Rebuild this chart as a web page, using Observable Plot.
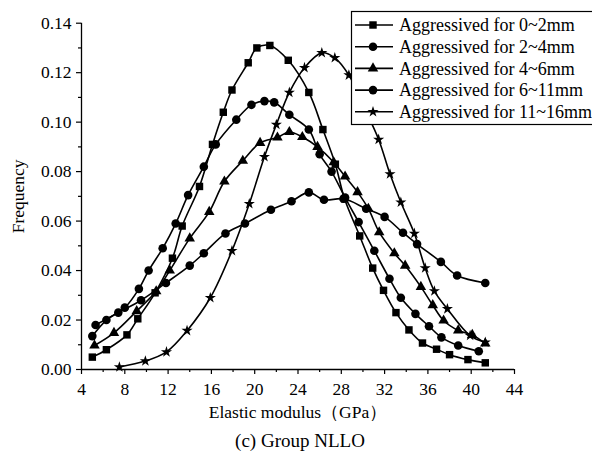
<!DOCTYPE html>
<html><head><meta charset="utf-8">
<script src="https://cdn.jsdelivr.net/npm/d3@7"></script>
<script src="https://cdn.jsdelivr.net/npm/@observablehq/plot@0.6"></script>
<style>
html,body{margin:0;padding:0;background:#fff;overflow:hidden;}
#wrap{position:relative;width:592px;height:460px;overflow:hidden;font-family:"Liberation Serif","Times New Roman",serif;color:#000;}
#caption{position:absolute;left:0;width:600px;top:429px;line-height:24px;text-align:center;font-size:19px;}
#legend{position:absolute;left:351px;top:11px;overflow:visible;}
svg text{font-family:"Liberation Serif","Times New Roman",serif !important;font-variant-numeric:normal;}
</style></head><body>
<div id="wrap"><div id="chart"></div><svg id="legend" width="260" height="116"></svg><div id="caption">(c) Group NLLO</div></div>
<script>
// ---- data ----
const seriesLabels = ["Aggressived for 0~2mm","Aggressived for 2~4mm","Aggressived for 4~6mm","Aggressived for 6~11mm","Aggressived for 11~16mm"];
const seriesSymbols = ["square","circle","triangle","circle","star"];

const x_0_2 = [5.0,6.3,8.2,9.2,10.8,12.4,13.3,14.9,16.1,17.1,17.9,19.4,20.2,21.4,23.1,25.0,26.3,27.45,28.3,29.7,30.9,31.9,33.05,34.25,35.5,36.8,38.0,39.7,41.3];
const f_0_2 = [0.005,0.008,0.014,0.0205,0.031,0.045,0.058,0.074,0.091,0.104,0.113,0.124,0.130,0.131,0.125,0.112,0.097,0.083,0.069,0.054,0.041,0.032,0.023,0.016,0.0107,0.0082,0.006,0.004,0.0027];

const x_2_4 = [5.0,6.3,8.0,9.3,10.2,11.5,12.7,13.85,15.3,16.4,18.3,19.7,20.9,21.8,23.2,25.0,26.0,27.1,28.35,29.6,31.05,32.45,33.5,34.85,36.1,37.25,38.8,40.7];
const f_2_4 = [0.0135,0.020,0.025,0.0326,0.040,0.049,0.059,0.0705,0.082,0.091,0.101,0.107,0.1085,0.108,0.103,0.097,0.087,0.080,0.0695,0.0596,0.048,0.0367,0.029,0.0225,0.0175,0.013,0.0097,0.0074];

const x_4_6 = [5.2,7.0,9.1,10.9,12.15,14.0,15.8,17.2,18.9,20.5,22.1,23.2,24.4,25.8,27.3,28.35,29.5,30.5,31.5,32.9,33.9,35.35,36.45,37.45,38.8,40.1,41.3];
const f_4_6 = [0.0097,0.0148,0.0236,0.0316,0.040,0.053,0.0637,0.076,0.0844,0.0916,0.0938,0.096,0.094,0.090,0.0838,0.078,0.0717,0.065,0.0555,0.047,0.042,0.0334,0.026,0.0198,0.0158,0.014,0.0105];

const x_6_11 = [5.3,7.4,9.5,11.8,14.0,15.3,17.3,19.1,21.5,23.4,25.0,26.4,28.2,30.3,32.0,33.7,35.0,37.2,38.7,41.3];
const f_6_11 = [0.018,0.023,0.028,0.035,0.042,0.047,0.055,0.059,0.0646,0.068,0.0716,0.0686,0.069,0.065,0.0617,0.0553,0.0507,0.0435,0.038,0.035];

const x_11_16 = [7.5,9.9,11.85,13.75,15.9,17.9,19.5,20.9,22.0,23.2,24.6,26.2,27.4,28.7,30.1,31.45,32.5,33.5,34.75,35.75,36.6,37.8,39.9,41.3];
const f_11_16 = [0.001,0.0034,0.0071,0.0157,0.029,0.048,0.067,0.086,0.099,0.112,0.122,0.128,0.126,0.119,0.106,0.093,0.079,0.0676,0.055,0.041,0.0317,0.0245,0.0137,0.011];

const xTicks = [4,8,12,16,20,24,28,32,36,40,44];
const xMinor = [6,10,14,18,22,26,30,34,38,42];
const yTicks = [0.00,0.02,0.04,0.06,0.08,0.10,0.12,0.14];
const yMinor = [0.01,0.03,0.05,0.07,0.09,0.11,0.13];
const xTitle = "Elastic modulus（GPa）";
const yTitle = "Frequency";

// ---- build table ----
const xs = [x_0_2,x_2_4,x_4_6,x_6_11,x_11_16];
const fs = [f_0_2,f_2_4,f_4_6,f_6_11,f_11_16];
const rows = [];
xs.forEach((xx,i)=>xx.forEach((v,j)=>rows.push({x:v,y:fs[i][j],s:seriesLabels[i]})));

const symR = {square:4.2,circle:4.3,triangle:3.9,star:3.5};
const font = "Liberation Serif, Times New Roman, serif";

const dotMarks = seriesLabels.map((lab,i)=>Plot.dot(rows,{filter:d=>d.s===lab,x:"x",y:"y",symbol:seriesSymbols[i],fill:"black",stroke:"none",r:symR[seriesSymbols[i]]}));

const axisFont = {fontFamily:font, fontVariant:"normal"};

const chart = Plot.plot({
  width:592, height:430,
  marginLeft:81, marginRight:78, marginTop:22.7, marginBottom:61,
  style:{fontFamily:font,fontSize:"17.5px",color:"#000",background:"#fff",overflow:"visible"},
  x:{domain:[4,44]},
  y:{domain:[0,0.14]},
  marks:[
    Plot.line(rows,{x:"x",y:"y",z:"s",curve:"catmull-rom",stroke:"black",strokeWidth:1.6}),
    ...dotMarks,
    Plot.ruleY([0],{stroke:"black",strokeWidth:1.3}),
    Plot.ruleX([4],{stroke:"black",strokeWidth:1.3}),
    Plot.axisX(xTicks,{...axisFont,tickSize:5,tickPadding:8,strokeWidth:1.2,tickFormat:d=>String(d),label:xTitle,labelAnchor:"center",labelOffset:48,labelArrow:"none"}),
    Plot.axisX(xMinor,{tickSize:3,strokeWidth:1.2,text:null,label:null}),
    Plot.axisY(yTicks,{...axisFont,tickSize:5,tickPadding:5,strokeWidth:1.2,tickFormat:d3.format(".2f"),label:yTitle,labelAnchor:"center",labelOffset:70,labelArrow:"none"}),
    Plot.axisY(yMinor,{tickSize:3,strokeWidth:1.2,text:null,label:null})
  ]
});
document.getElementById("chart").appendChild(chart);

// ---- legend ----
const lg = d3.select("#legend");
lg.append("rect").attr("x",0.5).attr("y",0.5).attr("width",300).attr("height",113).attr("fill","#fff").attr("stroke","#000").attr("stroke-width",1.2);
seriesLabels.forEach((lab,i)=>{
  const cy = 14 + i*21.7;
  const g = lg.append("g");
  g.append("line").attr("x1",4).attr("x2",42).attr("y1",cy).attr("y2",cy).attr("stroke","#000").attr("stroke-width",1.6);
  const sname = seriesSymbols[i];
  const sym = {square:d3.symbolSquare,circle:d3.symbolCircle,triangle:d3.symbolTriangle,star:d3.symbolStar}[sname];
  const r = symR[sname];
  g.append("path").attr("d",d3.symbol(sym,Math.PI*r*r)()).attr("transform",`translate(22,${cy})`).attr("fill","#000");
  g.append("text").attr("x",48).attr("y",cy).attr("dy","0.34em").attr("font-size","18px").text(lab);
});
</script>
</body></html>
